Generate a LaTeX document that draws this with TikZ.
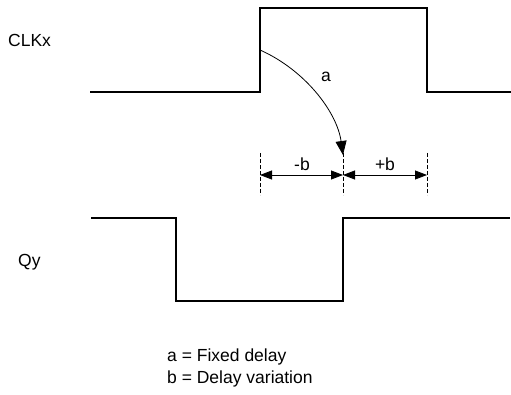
\documentclass[tikz,border=0pt]{standalone}
\usepackage{fontspec}
\setmainfont{Liberation Sans}
\usetikzlibrary{arrows.meta}
\begin{document}
\begin{tikzpicture}[x=1pt,y=-1pt,
  signal/.style={line width=2.2pt, line join=miter},
  guide/.style={line width=0.8pt, dash pattern=on 4pt off 2pt},
  dimline/.style={line width=0.8pt, {Triangle[length=12pt,width=9pt]}-{Triangle[length=12pt,width=9pt]}},
  delayarrow/.style={line width=0.8pt, -{Triangle[length=14pt,width=11pt]}},
  lbl/.style={inner sep=0pt, font=\fontsize{17.5}{21}\selectfont}]
\useasboundingbox (0,0) rectangle (511,395);
% CLKx waveform
\coordinate (c0) at (90,92);
\coordinate (c1) at (260,92);
\coordinate (c2) at (260,8);
\coordinate (c3) at (427,8);
\coordinate (c4) at (427,92);
\coordinate (c5) at (511,92);
\draw[signal] (c0) -- (c1) -- (c2) -- (c3) -- (c4) -- (c5);
% Qy waveform
\coordinate (q0) at (91,218);
\coordinate (q1) at (176,218);
\coordinate (q2) at (176,301);
\coordinate (q3) at (343,301);
\coordinate (q4) at (343,218);
\coordinate (q5) at (510,218);
\draw[signal] (q0) -- (q1) -- (q2) -- (q3) -- (q4) -- (q5);
% guides
\coordinate (g1t) at (260,153); \coordinate (g1b) at (260,195);
\coordinate (g2t) at (343,153); \coordinate (g2b) at (343,195);
\coordinate (g3t) at (427,153); \coordinate (g3b) at (427,195);
\draw[guide] (g1t) -- (g1b);
\draw[guide] (g2t) -- (g2b);
\draw[guide] (g3t) -- (g3b);
% dimension arrows
\coordinate (d1) at (260,175);
\coordinate (d2) at (343,175);
\coordinate (d3) at (427,175);
\draw[dimline] (d1) -- (d2);
\draw[dimline] (d2) -- (d3);
% delay arrow
\coordinate (as) at (260,50);
\coordinate (ae) at (343,155);
\draw[delayarrow] (as) .. controls (305,70) and (337,112) .. (ae);
% labels
\node[lbl, anchor=base west] (clk) at (8,47) {CLKx};
\node[lbl, anchor=base west] (qy) at (18,266) {Qy};
\node[lbl, anchor=base] (la) at (326,82) {a};
\node[lbl, anchor=base] (lmb) at (302,171) {-b};
\node[lbl, anchor=base] (lpb) at (385,171) {+b};
\node[lbl, anchor=base west] (leg1) at (167,361) {a = Fixed delay};
\node[lbl, anchor=base west] (leg2) at (167,383) {b = Delay variation};
\end{tikzpicture}
\end{document}
